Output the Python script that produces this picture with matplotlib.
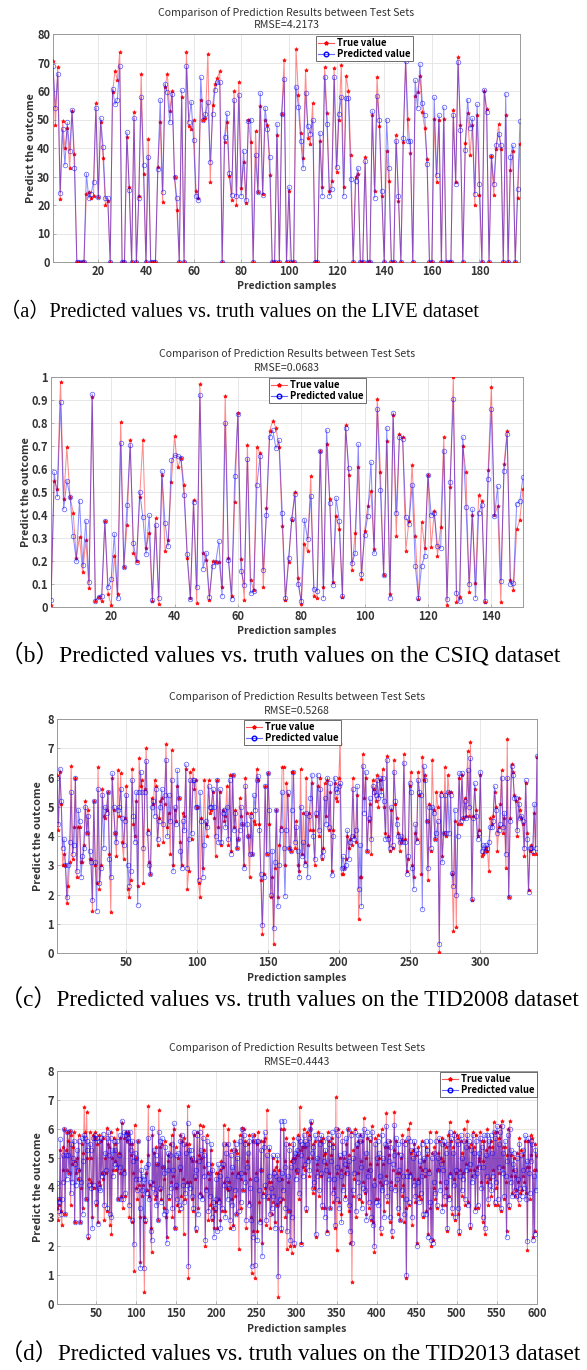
import matplotlib
matplotlib.use('Agg')
import matplotlib.pyplot as plt
from matplotlib.lines import Line2D
import numpy as np

# ---------------- data ----------------
live_pred = [68.7, 54, 66, 24.3, 46.5, 34, 49, 39, 53.3, 33,
             0, 0, 0, 0, 31, 22.5, 24, 28, 54, 22.7,
             50.5, 40.5, 22.3, 22.3, 0, 60.7, 55.3, 56.8, 68.8, 0,
             0, 45.6, 25.2, 0, 50.5, 0, 22.5, 57.8, 34, 0,
             37, 0, 0, 0, 32.7, 56.8, 24.7, 62.5, 59.5, 49,
             59, 29.7, 22.4, 0, 60.2, 0, 68.7, 49.2, 56.2, 42.7,
             23, 21.7, 64.8, 50, 52, 56.3, 35.2, 52, 60.5, 63.3,
             63, 0, 43.8, 52.2, 31.2, 23.5, 56.8, 23, 58.6, 23.2,
             39, 21.7, 49.3, 50, 0, 37.5, 24.4, 59.3, 23.5, 54.2,
             46.5, 36.7, 0, 0, 48.5, 0, 52.1, 64.3, 0, 26.3,
             0, 0, 61.4, 54.5, 42.3, 33, 59.4, 47.7, 45, 49.8,
             0, 0, 45.4, 23.3, 65, 48.3, 23.3, 25.5, 64.8, 33.3,
             52, 58, 23.2, 57.5, 57.5, 29, 0, 28.5, 33, 0,
             0, 35.3, 0, 0, 53, 22.5, 58.4, 49.7, 25, 0,
             50, 33, 0, 0, 42.5, 23.2, 0, 43.5, 70.5, 42.5,
             42.3, 0, 63.8, 54, 69.3, 55.8, 51.6, 34.3, 0, 0,
             57.8, 30.5, 51.5, 0, 54.3, 0, 0, 0, 51.5, 27.5,
             70.2, 46.3, 0, 39.2, 57, 47, 50.4, 24, 55.3, 27.5,
             0, 60.5, 52.5, 0, 37.2, 27.5, 41, 45, 41, 0,
             59, 0, 37, 41, 0, 25.7, 49.3]
live_true = [70.5, 48, 68.5, 22, 49.5, 40, 47, 33, 53, 38,
             0, 0, 0, 0, 24, 24.5, 22.5, 23, 55.8, 22.7,
             49, 36.5, 20, 21.5, 0, 59.5, 67, 64, 73.7, 0,
             0, 43.8, 26.2, 0, 52.7, 0, 23.2, 66, 31, 0,
             43, 0, 0, 0, 33.5, 49, 21, 61.5, 66, 53,
             60, 29.7, 18.3, 0, 57.8, 0, 73.7, 47.8, 46.8, 49.8,
             25, 22.3, 57, 50, 50.5, 73, 28.2, 55, 62.3, 64.5,
             67, 0, 42, 49, 30.2, 21.8, 60, 20, 63.3, 25.8,
             35, 20.7, 49.8, 42, 0, 46, 24.4, 54.6, 23.7, 49.7,
             48, 30.5, 0, 0, 44.6, 0, 52, 71, 0, 25,
             0, 0, 74.7, 58.6, 45.3, 36.5, 67.3, 43.5, 41.5, 55.8,
             0, 0, 42.3, 26.4, 68.3, 52.3, 25, 28.3, 68, 31.7,
             49.8, 69, 26.2, 65.3, 60, 37.5, 0, 30, 31, 0,
             0, 37, 0, 0, 51.5, 25, 65, 47.8, 23.2, 0,
             39, 28.3, 0, 0, 44.7, 21.5, 0, 42, 71.2, 50.3,
             38.4, 0, 58.3, 59.5, 65.3, 52.5, 47, 36, 0, 0,
             50.3, 28, 50, 0, 50.2, 0, 0, 0, 53.3, 28,
             71.8, 48, 0, 41.6, 52.4, 37.5, 48, 20, 51.5, 23.5,
             0, 60, 53.8, 0, 37.2, 23.5, 39.8, 48.3, 39.8, 0,
             51.5, 0, 32.3, 38.8, 0, 22.5, 41.3]

csiq_pred = [0.03, 0.585, 0.48, 0.89, 0.425, 0.55, 0.48, 0.31, 0.2, 0.462,
             0.182, 0.375, 0.107, 0.926, 0.027, 0.045, 0.047, 0.375, 0.086, 0.12,
             0.318, 0.037, 0.713, 0.173, 0.445, 0.703, 0.278, 0.197, 0.5, 0.39,
             0.23, 0.398, 0.03, 0.357, 0.04, 0.59, 0.365, 0.265, 0.638, 0.66,
             0.656, 0.647, 0.485, 0.23, 0.033, 0.455, 0.085, 0.922, 0.167, 0.235,
             0.045, 0.18, 0.195, 0.285, 0.048, 0.8, 0.205, 0.035, 0.57, 0.837,
             0.157, 0.097, 0.645, 0.06, 0.07, 0.532, 0.657, 0.16, 0.398, 0.738,
             0.77, 0.69, 0.725, 0.407, 0.037, 0.213, 0.383, 0.49, 0.1, 0.025,
             0.38, 0.295, 0.483, 0.08, 0.07, 0.678, 0.04, 0.77, 0.452, 0.095,
             0.473, 0.375, 0.05, 0.78, 0.603, 0.19, 0.233, 0.707, 0.143, 0.313,
             0.395, 0.63, 0.233, 0.862, 0.507, 0.14, 0.78, 0.04, 0.845, 0.41,
             0.738, 0.732, 0.39, 0.36, 0.532, 0.178, 0.04, 0.18, 0.222, 0.575,
             0.4, 0.407, 0.265, 0.255, 0.68, 0.033, 0.545, 0.905, 0.06, 0.025,
             0.738, 0.435, 0.1, 0.425, 0.04, 0.41, 0.445, 0.025, 0.557, 0.862,
             0.395, 0.525, 0.115, 0.59, 0.752, 0.1, 0.105, 0.45, 0.46, 0.565]
csiq_true = [0.01, 0.548, 0.515, 0.98, 0.47, 0.695, 0.48, 0.41, 0.215, 0.305,
             0.152, 0.29, 0.082, 0.913, 0.025, 0.045, 0.025, 0.373, 0.057, 0.01,
             0.22, 0.055, 0.805, 0.175, 0.355, 0.725, 0.235, 0.2, 0.477, 0.727,
             0.258, 0.32, 0.028, 0.387, 0.013, 0.572, 0.243, 0.29, 0.545, 0.742,
             0.607, 0.647, 0.532, 0.212, 0.038, 0.465, 0.018, 0.97, 0.235, 0.205,
             0.03, 0.2, 0.197, 0.197, 0.088, 0.918, 0.215, 0.05, 0.458, 0.845,
             0.208, 0.032, 0.705, 0.118, 0.072, 0.695, 0.668, 0.088, 0.43, 0.765,
             0.81, 0.78, 0.695, 0.352, 0.032, 0.195, 0.38, 0.5, 0.125, 0.015,
             0.273, 0.243, 0.57, 0.05, 0.04, 0.68, 0.088, 0.71, 0.47, 0.108,
             0.395, 0.34, 0.045, 0.79, 0.575, 0.162, 0.322, 0.607, 0.123, 0.33,
             0.44, 0.505, 0.252, 0.905, 0.585, 0.137, 0.72, 0.055, 0.835, 0.31,
             0.753, 0.737, 0.245, 0.375, 0.617, 0.307, 0.035, 0.37, 0.257, 0.575,
             0.26, 0.418, 0.222, 0.347, 0.74, 0.008, 0.52, 1.0, 0.022, 0.045,
             0.7, 0.585, 0.065, 0.398, 0.105, 0.485, 0.462, 0.02, 0.595, 0.955,
             0.4, 0.438, 0.022, 0.62, 0.767, 0.118, 0.075, 0.337, 0.38, 0.512]

tid08_pred = [6.0, 4.4, 6.3, 5.2, 3.6, 3.9, 3.0, 1.9, 3.0, 3.8,
              5.5, 3.4, 3.7, 6.0, 2.8, 4.9, 4.5, 2.6, 3.3, 3.6,
              5.0, 4.1, 4.7, 3.5, 3.1, 1.8, 5.2, 3.1, 1.45, 5.6,
              2.4, 2.9, 5.4, 3.6, 5.0, 4.8, 5.5, 3.2, 2.6, 6.15,
              5.0, 4.1, 3.8, 4.9, 5.0, 5.6, 4.6, 3.7, 4.5, 5.4,
              3.0, 2.3, 2.8, 5.9, 4.7, 3.8, 5.5, 1.65, 5.5, 6.2,
              5.5, 3.6, 5.5, 6.55, 4.1, 3.0, 2.7, 5.0, 5.2, 4.7,
              5.6, 3.9, 4.5, 5.0, 5.6, 4.4, 5.4, 6.6, 4.0, 5.4,
              4.5, 5.9, 2.8, 5.0, 4.4, 6.25, 5.3, 3.5, 2.9, 4.5,
              4.2, 6.45, 2.9, 3.9, 5.9, 4.1, 5.9, 5.9, 5.0, 5.0,
              2.5, 5.5, 4.5, 2.6, 3.7, 4.5, 4.3, 5.7, 5.0, 5.0,
              5.6, 5.0, 4.0, 5.9, 3.8, 5.6, 3.8, 4.8, 4.9, 4.3,
              5.0, 3.9, 5.9, 3.4, 6.1, 4.2, 4.8, 3.6, 3.9, 4.2,
              5.0, 4.4, 2.9, 5.7, 4.4, 4.0, 3.4, 4.7, 3.4, 5.4,
              4.9, 5.9, 6.05, 4.2, 2.7, 0.95, 2.6, 5.7, 3.4, 6.15,
              4.9, 2.0, 3.5, 0.85, 3.1, 4.9, 1.6, 3.0, 4.2, 5.5,
              3.6, 1.95, 4.2, 5.5, 3.6, 3.5, 4.9, 6.2, 3.8, 4.3,
              3.5, 2.6, 5.0, 3.3, 3.8, 3.0, 4.8, 2.6, 4.7, 5.3,
              6.1, 4.0, 3.2, 4.8, 6.1, 4.2, 5.6, 3.3, 3.5, 5.3,
              4.4, 6.0, 4.3, 5.8, 2.65, 4.0, 6.0, 5.6, 5.5, 5.7,
              5.8, 2.9, 3.3, 2.9, 3.0, 4.2, 3.2, 3.8, 4.0, 5.6,
              3.9, 4.2, 5.7, 2.2, 3.7, 1.6, 6.4, 4.8, 6.2, 3.5,
              4.6, 5.3, 3.9, 5.7, 5.5, 5.4, 5.9, 5.3, 6.0, 5.4,
              6.0, 5.2, 3.9, 6.6, 3.9, 3.6, 5.0, 3.7, 6.2, 5.2,
              4.4, 4.0, 3.8, 4.0, 3.8, 6.5, 3.8, 2.7, 3.3, 5.8,
              5.5, 2.9, 2.2, 4.4, 3.8, 5.9, 5.5, 5.4, 1.5, 6.4,
              5.9, 4.5, 2.9, 5.0, 3.6, 5.0, 4.8, 3.9, 4.1, 4.5,
              0.3, 5.4, 3.1, 4.1, 5.4, 4.1, 5.5, 4.1, 5.4, 2.75,
              2.3, 4.9, 2.0, 4.0, 6.15, 4.5, 6.15, 4.6, 5.2, 4.6,
              6.25, 5.0, 6.65, 1.85, 4.6, 5.8, 4.7, 3.9, 4.1, 6.2,
              3.5, 3.7, 3.5, 3.7, 3.6, 3.8, 4.3, 4.3, 4.5, 5.7,
              4.9, 4.1, 4.2, 4.4, 6.0, 4.3, 4.8, 3.4, 6.0, 1.9,
              4.5, 6.4, 6.1, 5.3, 5.3, 4.2, 5.1, 4.6, 4.7, 4.5,
              3.6, 5.9, 3.9, 2.1, 3.6, 3.6, 3.5, 5.1, 3.6, 6.75]
tid08_true = [6.1, 4.2, 6.2, 5.1, 3.0, 3.4, 3.0, 1.7, 2.3, 3.1,
              6.4, 3.2, 4.3, 6.0, 2.6, 4.3, 4.3, 3.1, 3.1, 3.7,
              5.2, 4.1, 4.9, 3.2, 3.2, 1.45, 5.2, 3.0, 2.4, 6.35,
              2.2, 3.0, 5.6, 4.7, 4.6, 4.9, 5.5, 3.4, 1.4, 6.0,
              4.9, 4.1, 3.3, 6.25, 4.7, 6.15, 3.8, 3.2, 4.6, 5.7,
              2.2, 1.9, 2.5, 6.3, 4.4, 4.0, 5.2, 2.3, 6.65, 5.7,
              5.9, 2.4, 5.6, 7.0, 4.2, 3.1, 2.7, 5.3, 5.1, 5.9,
              5.7, 3.7, 4.6, 5.2, 5.3, 3.8, 5.1, 7.15, 4.3, 4.8,
              3.4, 6.95, 3.0, 4.9, 4.5, 5.7, 5.3, 3.8, 3.0, 4.8,
              4.7, 6.3, 2.2, 2.8, 6.2, 3.9, 6.3, 5.6, 5.9, 5.0,
              2.4, 1.9, 4.6, 2.9, 5.9, 4.4, 4.0, 5.9, 4.8, 4.9,
              5.5, 4.6, 3.3, 5.9, 4.3, 5.5, 3.7, 4.9, 4.5, 4.7,
              5.7, 3.7, 6.1, 3.5, 6.1, 4.3, 4.9, 3.6, 3.9, 5.3,
              4.7, 4.4, 3.0, 6.0, 4.8, 4.0, 2.6, 4.8, 3.4, 4.5,
              4.4, 6.3, 5.9, 4.4, 2.5, 0.65, 2.7, 5.7, 3.4, 6.15,
              4.4, 1.9, 2.6, 0.3, 2.9, 4.9, 1.9, 3.7, 4.3, 6.35,
              6.35, 3.0, 5.8, 5.4, 3.6, 3.5, 6.2, 6.2, 3.6, 4.5,
              3.0, 2.8, 6.3, 3.4, 4.8, 3.1, 6.0, 3.7, 4.8, 4.2,
              5.8, 4.2, 3.0, 4.7, 5.7, 4.0, 6.0, 3.2, 3.6, 5.8,
              4.7, 5.9, 4.2, 5.5, 2.8, 4.2, 5.8, 5.3, 5.2, 6.0,
              7.15, 2.7, 2.7, 2.9, 3.2, 4.0, 3.6, 3.9, 3.7, 6.0,
              4.0, 3.8, 5.4, 1.15, 2.6, 2.6, 6.8, 5.3, 6.0, 3.5,
              4.5, 5.1, 3.4, 5.9, 5.6, 5.2, 6.1, 5.0, 5.9, 5.6,
              6.3, 5.0, 4.1, 6.75, 4.0, 3.5, 4.9, 3.6, 6.6, 5.1,
              4.6, 4.1, 3.5, 3.8, 3.9, 6.8, 3.9, 2.8, 3.2, 5.7,
              6.2, 3.0, 2.6, 4.1, 3.9, 6.2, 5.4, 2.7, 6.7, 5.9,
              6.1, 4.5, 2.5, 5.1, 3.5, 6.6, 4.9, 3.9, 5.5, 5.0,
              0.05, 5.5, 3.3, 4.1, 6.35, 4.0, 6.1, 5.5, 5.5, 2.7,
              0.75, 4.5, 0.9, 4.4, 6.0, 4.4, 6.1, 4.6, 5.3, 4.7,
              6.9, 4.7, 7.2, 1.8, 4.7, 5.6, 4.9, 4.0, 4.2, 6.1,
              3.3, 3.4, 3.5, 3.6, 3.5, 2.8, 4.6, 4.4, 4.7, 5.5,
              5.0, 3.5, 4.3, 5.1, 6.25, 4.1, 4.6, 2.9, 7.3, 1.9,
              4.6, 6.45, 6.2, 5.4, 5.2, 4.0, 5.3, 4.9, 4.6, 4.4,
              3.3, 5.8, 4.1, 2.15, 3.5, 3.7, 3.4, 4.8, 3.4, 6.7]

tid13_pred = [4.15, 3.2, 3.5, 3.6, 5.65, 3.1, 3.6, 5.1, 4.2, 6.0,
              3.1, 5.1, 4.3, 5.9, 5.1, 4.5, 5.95, 3.8, 5.5, 4.2,
              5.0, 5.6, 2.8, 4.8, 4.1, 5.3, 4.6, 5.6, 4.3, 2.8,
              4.2, 5.7, 3.1, 4.9, 5.8, 5.7, 3.6, 5.6, 5.3, 2.35,
              4.1, 5.5, 5.3, 4.0, 2.6, 5.7, 4.1, 5.8, 5.7, 3.5,
              5.7, 2.75, 4.0, 5.6, 3.9, 5.7, 4.4, 5.85, 4.5, 3.4,
              5.2, 4.6, 5.7, 3.3, 5.9, 5.1, 3.1, 5.7, 3.0, 5.3,
              4.4, 5.6, 4.8, 5.3, 4.7, 5.6, 3.6, 5.1, 4.7, 5.8,
              3.6, 6.3, 3.6, 4.5, 5.9, 3.8, 5.8, 5.9, 5.6, 5.7,
              3.4, 5.9, 5.3, 2.9, 5.6, 4.9, 2.05, 5.2, 4.3, 5.0,
              3.9, 5.6, 4.3, 3.3, 1.25, 4.6, 3.9, 4.4, 1.25, 4.3,
              2.9, 4.7, 3.8, 4.8, 5.7, 3.6, 4.2, 2.5, 2.2, 6.05,
              4.0, 5.3, 3.8, 5.1, 3.4, 4.8, 2.9, 5.9, 4.0, 5.6,
              3.5, 5.7, 4.7, 3.1, 4.5, 5.4, 3.2, 2.1, 4.6, 5.2,
              3.7, 5.1, 4.0, 5.5, 3.3, 4.6, 6.2, 2.6, 5.1, 4.1,
              3.6, 5.2, 3.4, 4.7, 5.6, 3.3, 5.8, 4.1, 3.5, 5.5,
              3.8, 5.2, 4.1, 6.2, 1.3, 5.3, 4.0, 5.3, 3.7, 5.0,
              3.3, 5.9, 4.4, 2.6, 4.6, 5.8, 3.1, 4.9, 5.9, 3.7,
              5.3, 3.6, 5.7, 4.4, 5.1, 2.2, 3.9, 5.6, 4.8, 3.2,
              4.5, 3.7, 5.5, 3.0, 4.6, 3.5, 2.3, 3.3, 3.6, 4.3,
              2.5, 4.8, 3.5, 4.4, 2.6, 4.7, 3.3, 4.8, 5.5, 4.1,
              3.0, 5.2, 4.3, 3.6, 5.5, 4.0, 2.9, 5.1, 3.4, 4.7,
              2.6, 5.3, 3.9, 5.5, 3.1, 5.0, 4.4, 3.2, 5.6, 3.5,
              4.5, 6.0, 3.9, 5.8, 4.2, 5.5, 2.9, 4.7, 5.2, 3.4,
              5.6, 4.0, 2.9, 1.3, 5.8, 2.3, 5.6, 1.35, 4.3, 5.6,
              2.2, 5.6, 3.9, 2.8, 4.6, 5.3, 1.65, 3.7, 5.4, 5.9,
              4.1, 2.9, 5.1, 3.7, 4.4, 5.4, 3.1, 4.0, 3.3, 5.1,
              3.7, 4.5, 2.6, 4.4, 3.4, 5.1, 0.95, 4.3, 3.6, 6.3,
              2.6, 4.5, 3.9, 6.3, 4.7, 3.3, 5.5, 2.5, 4.4, 3.2,
              5.3, 2.2, 4.7, 3.0, 4.9, 5.5, 2.1, 5.2, 4.3, 5.3,
              4.6, 5.7, 3.8, 5.6, 5.1, 2.05, 5.5, 4.4, 5.8, 4.8,
              5.6, 3.3, 5.5, 4.9, 5.7, 4.6, 6.0, 6.3, 5.2, 4.0,
              5.4, 4.2, 5.8, 2.4, 5.0, 4.4, 5.7, 3.9, 5.5, 4.5,
              5.8, 3.4, 5.6, 4.9, 3.0, 5.3, 4.6, 2.45, 5.7, 4.3,
              5.5, 3.3, 4.9, 5.9, 3.8, 5.4, 4.3, 2.7, 6.0, 3.6,
              4.7, 5.8, 3.3, 5.1, 4.4, 2.8, 5.6, 3.9, 5.2, 4.8,
              3.6, 5.7, 4.5, 6.0, 3.4, 4.9, 2.5, 5.8, 2.1, 3.9,
              5.0, 4.5, 5.9, 3.2, 5.5, 4.2, 5.8, 3.7, 5.6, 4.7,
              3.3, 5.8, 4.0, 6.0, 3.9, 5.2, 2.9, 5.9, 4.4, 3.5,
              5.7, 4.6, 3.0, 5.9, 2.7, 4.1, 2.0, 5.5, 3.5, 5.0,
              5.6, 3.4, 5.2, 4.4, 2.6, 5.8, 3.9, 5.0, 3.0, 5.5,
              4.2, 6.1, 3.7, 5.6, 4.9, 3.0, 5.4, 4.0, 2.5, 4.8,
              5.1, 6.15, 3.9, 5.7, 4.3, 3.3, 5.5, 4.6, 2.9, 5.1,
              3.9, 5.6, 4.4, 3.1, 5.5, 3.6, 1.0, 4.4, 5.7, 3.5,
              5.6, 4.4, 5.3, 3.0, 5.0, 4.1, 5.6, 3.7, 5.3, 2.0,
              4.2, 5.2, 3.5, 4.9, 3.8, 5.5, 4.4, 3.1, 5.0, 4.6,
              5.6, 3.1, 5.3, 2.3, 4.5, 5.6, 3.5, 2.2, 5.0, 2.1,
              4.2, 5.2, 3.8, 5.6, 3.4, 5.0, 4.6, 5.7, 3.9, 4.8,
              5.5, 3.2, 4.6, 5.6, 3.7, 5.2, 4.2, 2.6, 5.5, 3.6,
              5.9, 4.4, 5.7, 3.3, 5.2, 4.1, 5.8, 3.0, 4.6, 5.6,
              3.3, 5.5, 2.5, 4.4, 5.8, 3.9, 5.0, 4.3, 5.6, 3.6,
              5.4, 4.6, 5.8, 3.4, 5.6, 4.8, 2.7, 5.3, 4.2, 5.8,
              4.4, 5.2, 3.2, 5.6, 4.5, 3.4, 5.2, 4.7, 5.7, 4.0,
              5.4, 3.0, 4.7, 5.8, 2.6, 5.1, 4.4, 5.8, 3.6, 5.6,
              4.1, 5.8, 3.9, 5.2, 4.4, 5.9, 3.5, 5.7, 4.2, 6.1,
              3.6, 5.5, 4.7, 5.9, 3.3, 6.1, 4.5, 5.2, 3.7, 5.6,
              4.4, 2.3, 4.9, 5.8, 3.4, 6.0, 4.2, 5.3, 3.7, 4.8,
              5.2, 3.9, 4.6, 3.7, 5.0, 4.3, 3.6, 5.5, 4.0, 5.1,
              3.7, 4.6, 5.3, 4.0, 5.8, 3.6, 4.9, 2.15, 5.7, 4.5,
              3.8, 5.6, 4.9, 5.5, 2.2, 4.4, 2.4, 5.3, 3.9, 5.1]
tid13_true = [3.3, 2.9, 3.4, 3.6, 5.3, 3.2, 2.7, 5.4, 4.6, 6.0,
              3.1, 5.3, 4.6, 5.9, 5.6, 4.5, 5.95, 3.4, 5.8, 4.8,
              5.4, 5.9, 2.8, 4.9, 4.5, 5.0, 4.3, 5.8, 4.6, 2.8,
              4.0, 5.5, 3.3, 5.2, 6.75, 5.9, 3.6, 6.6, 5.0, 2.25,
              4.3, 5.9, 5.0, 4.2, 3.0, 5.8, 4.0, 5.7, 5.9, 3.4,
              5.5, 2.8, 4.2, 5.8, 4.1, 5.6, 4.5, 5.7, 4.3, 2.9,
              5.0, 4.5, 6.05, 3.2, 5.5, 5.4, 2.7, 5.9, 2.4, 5.0,
              4.6, 5.7, 4.9, 5.5, 4.6, 6.0, 3.6, 5.2, 4.5, 5.7,
              3.7, 6.2, 3.3, 4.6, 5.7, 3.7, 5.9, 5.6, 5.8, 5.9,
              3.0, 5.5, 5.1, 2.8, 5.5, 4.5, 1.15, 6.15, 4.0, 5.0,
              3.6, 5.6, 4.1, 3.0, 1.45, 4.9, 3.7, 4.1, 3.0, 0.4,
              2.8, 4.5, 3.9, 5.1, 6.8, 3.7, 4.1, 2.6, 1.8, 5.8,
              4.2, 5.2, 3.6, 5.4, 3.7, 4.8, 2.9, 6.65, 3.9, 5.4,
              3.6, 5.5, 4.7, 3.3, 4.3, 5.6, 3.0, 2.3, 4.9, 5.1,
              3.6, 5.5, 4.2, 5.8, 3.0, 4.4, 6.0, 2.6, 5.4, 4.0,
              3.4, 5.0, 3.2, 4.6, 5.8, 3.7, 5.6, 4.3, 2.4, 5.7,
              3.6, 5.5, 4.2, 6.8, 0.9, 5.5, 4.2, 5.0, 3.6, 4.9,
              3.2, 5.8, 4.3, 2.5, 4.9, 5.9, 3.3, 5.1, 6.15, 3.8,
              5.0, 3.7, 6.1, 4.7, 5.3, 2.0, 4.0, 5.8, 4.5, 2.9,
              4.3, 3.4, 5.3, 2.9, 4.8, 3.3, 2.6, 3.2, 3.5, 4.5,
              2.6, 4.5, 3.6, 4.6, 2.9, 4.9, 3.2, 4.7, 6.15, 4.2,
              3.2, 5.5, 4.0, 3.9, 6.0, 4.2, 2.6, 5.3, 3.6, 4.5,
              2.7, 5.6, 3.7, 5.3, 3.1, 5.2, 4.5, 1.9, 5.8, 3.3,
              4.3, 6.05, 3.9, 6.0, 4.5, 5.6, 2.6, 4.9, 5.5, 3.5,
              5.8, 4.3, 3.0, 1.05, 5.6, 2.5, 5.8, 0.9, 4.5, 5.5,
              2.5, 5.9, 3.5, 2.9, 4.6, 5.6, 2.1, 3.8, 5.6, 5.7,
              4.0, 2.7, 6.65, 3.6, 4.2, 5.3, 2.6, 4.2, 3.1, 5.0,
              3.5, 4.6, 2.8, 4.7, 3.4, 4.9, 0.25, 4.6, 3.5, 6.0,
              2.5, 4.3, 3.6, 6.0, 4.9, 3.0, 5.7, 1.9, 4.2, 3.2,
              5.5, 2.0, 4.9, 1.75, 5.0, 5.7, 2.0, 5.0, 4.6, 5.1,
              4.5, 5.8, 3.6, 6.75, 5.3, 2.1, 5.4, 4.7, 6.0, 4.6,
              5.4, 3.2, 5.9, 5.0, 5.8, 4.4, 6.0, 6.2, 5.0, 3.8,
              5.5, 4.0, 5.6, 2.3, 4.8, 4.6, 5.9, 3.7, 5.6, 4.4,
              5.6, 3.3, 5.7, 5.1, 3.3, 5.2, 4.8, 2.5, 5.9, 4.5,
              5.6, 3.3, 5.1, 5.7, 3.5, 5.5, 4.0, 2.6, 7.1, 1.85,
              4.5, 6.0, 3.5, 5.0, 4.6, 3.1, 5.9, 4.1, 5.0, 4.5,
              3.7, 5.5, 4.7, 6.0, 3.2, 5.1, 2.1, 5.9, 0.75, 3.7,
              5.3, 4.3, 6.0, 3.0, 5.4, 4.5, 5.6, 3.6, 5.8, 4.9,
              3.5, 5.6, 4.2, 6.4, 3.8, 5.0, 3.1, 5.7, 4.6, 3.3,
              5.6, 4.8, 2.9, 6.1, 2.8, 4.3, 1.8, 5.7, 3.6, 4.8,
              5.8, 3.6, 5.0, 4.2, 2.4, 6.0, 4.1, 4.8, 3.2, 5.4,
              4.4, 6.55, 3.5, 5.4, 5.1, 2.8, 5.6, 4.2, 2.3, 4.6,
              5.3, 6.6, 4.1, 5.6, 4.5, 3.1, 5.2, 4.5, 2.9, 5.0,
              3.7, 5.8, 4.1, 2.8, 5.6, 3.3, 0.9, 4.6, 6.0, 3.4,
              6.2, 4.5, 5.2, 2.7, 5.3, 4.3, 5.5, 3.5, 5.1, 2.1,
              4.3, 5.4, 3.7, 4.7, 3.6, 5.6, 4.6, 3.0, 4.9, 4.4,
              5.4, 3.2, 5.1, 2.4, 4.6, 5.9, 3.3, 2.0, 5.2, 2.2,
              4.0, 5.4, 3.6, 5.9, 3.3, 5.2, 4.6, 5.6, 4.2, 5.0,
              5.7, 3.4, 4.9, 5.5, 3.4, 5.4, 4.0, 2.5, 5.8, 3.7,
              6.25, 4.5, 5.6, 3.1, 5.4, 4.3, 5.9, 2.9, 4.5, 5.8,
              3.1, 5.7, 2.4, 4.6, 5.6, 3.7, 5.2, 4.5, 6.0, 3.4,
              5.6, 4.8, 6.3, 3.5, 5.4, 4.6, 2.6, 5.5, 4.4, 5.9,
              4.6, 5.4, 3.3, 5.8, 4.7, 3.3, 5.0, 4.9, 5.9, 4.2,
              5.6, 2.8, 4.9, 5.6, 2.4, 5.3, 4.2, 6.0, 3.4, 5.4,
              4.3, 5.6, 3.7, 5.4, 4.6, 6.25, 3.4, 5.9, 4.0, 5.9,
              3.4, 5.7, 4.5, 6.1, 3.2, 6.3, 4.7, 5.4, 3.6, 5.4,
              4.2, 2.5, 5.1, 6.0, 3.3, 6.3, 4.4, 5.1, 3.8, 4.6,
              5.0, 3.7, 4.4, 3.9, 5.2, 4.2, 3.4, 5.7, 3.8, 5.3,
              3.9, 4.4, 5.1, 4.2, 5.6, 3.8, 4.7, 1.85, 5.6, 4.7,
              3.6, 5.8, 5.1, 5.7, 2.3, 4.6, 2.5, 5.5, 4.6, 5.1]

titles = ["Comparison of Prediction Results between Test Sets"] * 4
rmse_labels = ["RMSE=4.2173", "RMSE=0.0683", "RMSE=0.5268", "RMSE=0.4443"]
captions = ["（a）Predicted values vs. truth values on the LIVE dataset",
            "（b）Predicted values vs. truth values on the CSIQ dataset",
            "（c）Predicted values vs. truth values on the TID2008 dataset",
            "（d）Predicted values vs. truth values on the TID2013 dataset"]
legend_labels = ["True value", "Predicted value"]
xlabel_text = "Prediction samples"
ylabel_text = "Predict the outcome"

live_yticks = [0, 10, 20, 30, 40, 50, 60, 70, 80]
live_xticks = [20, 40, 60, 80, 100, 120, 140, 160, 180]
csiq_yticks = [0, 0.1, 0.2, 0.3, 0.4, 0.5, 0.6, 0.7, 0.8, 0.9, 1]
csiq_yticklabels = ["0", "0.1", "0.2", "0.3", "0.4", "0.5", "0.6", "0.7", "0.8", "0.9", "1"]
csiq_xticks = [20, 40, 60, 80, 100, 120, 140]
tid08_yticks = [0, 1, 2, 3, 4, 5, 6, 7, 8]
tid08_xticks = [50, 100, 150, 200, 250, 300]
tid13_yticks = [0, 1, 2, 3, 4, 5, 6, 7, 8]
tid13_xticks = [50, 100, 150, 200, 250, 300, 350, 400, 450, 500, 550, 600]

# ---------------- layout ----------------
W, H = 587, 1370
fig = plt.figure(figsize=(W / 100, H / 100), dpi=100)
fig.patch.set_facecolor('white')

SANS = ['Noto Sans CJK SC', 'DejaVu Sans']
SERIF = ['Liberation Serif', 'Noto Sans CJK SC']

panels = [
    dict(true=live_true, pred=live_pred, yt=live_yticks, ytl=None, xt=live_xticks,
         ylim=(0, 80), box=(53, 520, 34, 262), t1=13, t2=25, xl=286, ylx=31,
         cap=312, capfs=14.6, leg=(316, 36, 'upper left')),
    dict(true=csiq_true, pred=csiq_pred, yt=csiq_yticks, ytl=csiq_yticklabels, xt=csiq_xticks,
         ylim=(0, 1), box=(51, 523, 377, 607), t1=354, t2=368, xl=631, ylx=26,
         cap=655, capfs=17.0, leg=(269, 378, 'upper left')),
    dict(true=tid08_true, pred=tid08_pred, yt=tid08_yticks, ytl=None, xt=tid08_xticks,
         ylim=(0, 8), box=(57, 537, 719, 953), t1=697, t2=711, xl=978, ylx=38,
         cap=1001, capfs=16.7, leg=(244, 720, 'upper left')),
    dict(true=tid13_true, pred=tid13_pred, yt=tid13_yticks, ytl=None, xt=tid13_xticks,
         ylim=(0, 8), box=(57, 537, 1071, 1304), t1=1048, t2=1062, xl=1329, ylx=38,
         cap=1355, capfs=16.7, leg=(537, 1072, 'upper right')),
]

RED = (1.0, 0.0, 0.0)
BLUE = (0.0, 0.0, 1.0)

for i, p in enumerate(panels):
    l, r, t, b = p['box']
    ax = fig.add_axes([l / W, 1 - b / H, (r - l) / W, (b - t) / H])
    n = len(p['true'])
    x = np.arange(1, n + 1)
    ax.plot(x, p['true'], '-', color=RED, alpha=0.45, lw=0.75, zorder=2)
    ax.plot(x, p['true'], linestyle='none', marker='*', ms=2.8, color=RED, mec=RED,
            mew=0.5, alpha=0.9, zorder=3)
    ax.plot(x, p['pred'], '-', color=BLUE, alpha=0.45, lw=0.75, zorder=4)
    ax.plot(x, p['pred'], linestyle='none', marker='o', ms=3.3, mfc='none', mec=BLUE,
            mew=0.55, alpha=0.6, zorder=5)
    ax.set_xlim(1, n)
    ax.set_ylim(*p['ylim'])
    ax.set_xticks(p['xt'])
    ax.set_yticks(p['yt'])
    if p['ytl'] is not None:
        ax.set_yticklabels(p['ytl'])
    ax.grid(True, color='#e3e3e3', lw=0.6)
    ax.set_axisbelow(True)
    for s in ax.spines.values():
        s.set_color('#9a9a9a')
        s.set_linewidth(0.7)
    ax.tick_params(direction='in', length=2, width=0.5, color='#9a9a9a',
                   labelsize=8, labelcolor='#333333', pad=2)
    for lab in ax.get_xticklabels() + ax.get_yticklabels():
        lab.set_fontweight('bold')
        lab.set_family(SANS)

    cx = (l + r) / 2
    fig.text(cx / W, 1 - p['t1'] / H, titles[i], ha='center', va='center',
             fontsize=7.6, color='#333333', family=SANS)
    fig.text(cx / W, 1 - p['t2'] / H, rmse_labels[i], ha='center', va='center',
             fontsize=7.6, color='#333333', family=SANS)
    fig.text(cx / W, 1 - p['xl'] / H, xlabel_text, ha='center', va='center',
             fontsize=7.5, fontweight='bold', color='#333333', family=SANS)
    fig.text(p['ylx'] / W, 1 - ((t + b) / 2) / H, ylabel_text, ha='center', va='center',
             rotation=90, fontsize=7.8, fontweight='bold', color='#333333', family=SANS)
    fig.text(0.5 / W, 1 - p['cap'] / H, captions[i], ha='left', va='center',
             fontsize=p['capfs'], color='black', family=SERIF)

    lx, ly, loc = p['leg']
    anchor = ((lx - l) / (r - l), 1 - (ly - t) / (b - t))
    handles = [Line2D([], [], color=(1, 0.35, 0.35), lw=0.8, marker='*', ms=2.8, mfc=RED, mec=RED),
               Line2D([], [], color=(0.4, 0.4, 1), lw=0.8, marker='o', ms=3.3, mfc='none', mec=BLUE)]
    leg = ax.legend(handles, legend_labels, loc=loc, bbox_to_anchor=anchor, borderaxespad=0,
                    prop={'family': SANS, 'weight': 'bold', 'size': 6.8}, frameon=True,
                    fancybox=False, edgecolor='#555555', framealpha=1, handlelength=1.7,
                    handletextpad=0.3, labelspacing=0.05, borderpad=0.25)
    leg.get_frame().set_linewidth(0.6)
    leg.set_zorder(10)

fig.savefig('out.png', dpi=100, facecolor='white')
